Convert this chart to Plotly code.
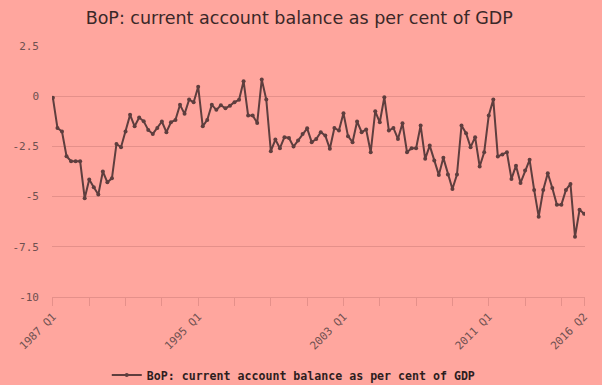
import plotly.graph_objects as go

values = [
    -0.08, -1.58, -1.76, -2.99, -3.24, -3.24, -3.24, -5.08, -4.15, -4.53,
    -4.90, -3.75, -4.29, -4.09, -2.38, -2.54, -1.76, -0.93, -1.50, -1.06,
    -1.25, -1.68, -1.88, -1.58, -1.26, -1.79, -1.30, -1.18, -0.43, -0.88,
    -0.17, -0.30, 0.47, -1.50, -1.18, -0.43, -0.68, -0.45, -0.60, -0.47,
    -0.30, -0.18, 0.75, -0.96, -0.96, -1.33, 0.83, -0.17, -2.74, -2.16,
    -2.59, -2.04, -2.08, -2.51, -2.21, -1.88, -1.60, -2.29, -2.13, -1.79,
    -1.96, -2.62, -1.58, -1.71, -0.85, -1.99, -2.29, -1.26, -1.79, -1.66,
    -2.79, -0.75, -1.30, -0.05, -1.71, -1.58, -2.13, -1.35, -2.79, -2.59,
    -2.59, -1.46, -3.12, -2.46, -3.20, -3.92, -3.07, -3.90, -4.62, -3.90,
    -1.46, -1.84, -2.54, -2.04, -3.50, -2.79, -0.96, -0.17, -3.00, -2.90,
    -2.79, -4.12, -3.46, -4.32, -3.70, -3.17, -4.67, -6.00, -4.67, -3.84,
    -4.57, -5.40, -5.40, -4.67, -4.37, -7.00, -5.66, -5.86,
]
start_year = 1987
periods = [f"{start_year + i // 4} Q{i % 4 + 1}" for i in range(len(values))]
tick_idx = list(range(0, len(values), 8)) + [len(values) - 1]
labelled = {"1987 Q1", "1995 Q1", "2003 Q1", "2011 Q1", "2016 Q2"}
tick_text = [periods[i] if periods[i] in labelled else "" for i in tick_idx]
y_ticks = [2.5, 0, -2.5, -5, -7.5, -10]
series_name = "BoP: current account balance as per cent of GDP"

bg = "#FFA69E"
grid = "#E5908A"
line_col = "#5E3E3E"

fig = go.Figure()
fig.add_trace(go.Scatter(
    x=list(range(len(values))), y=values, mode="lines+markers",
    name=series_name,
    line=dict(color=line_col, width=2),
    marker=dict(color=line_col, size=4),
    hovertext=periods,
))
fig.update_layout(
    width=602, height=385,
    paper_bgcolor=bg, plot_bgcolor=bg,
    margin=dict(l=52, r=17, t=46, b=88, autoexpand=False),
    title=dict(text="BoP: current account balance as per cent of GDP",
               x=0.497, xanchor="center", y=0.953, yanchor="middle",
               font=dict(family="DejaVu Sans", size=17.5, color="#3A2828")),
    showlegend=True,
    legend=dict(orientation="h", x=0.488, xanchor="center", xref="container",
                y=0.026, yanchor="middle", yref="container",
                font=dict(family="DejaVu Sans Mono", size=11.6, color="#2E1E1E", weight="bold"),
                bgcolor="rgba(0,0,0,0)"),
    xaxis=dict(range=[-0.2, len(values) - 0.8], tickmode="array", tickvals=tick_idx,
               ticktext=tick_text, tickangle=-45, ticks="outside", ticklen=8,
               tickcolor=grid, showgrid=False, zeroline=False, automargin=False,
               showline=True, linecolor=grid, linewidth=1,
               tickfont=dict(family="DejaVu Sans Mono", size=11, color="#6E5050")),
    yaxis=dict(range=[-10, 2.5], tickmode="array", tickvals=y_ticks,
               ticktext=[str(v) for v in y_ticks], showgrid=True, gridcolor=grid,
               gridwidth=1, zeroline=False, ticks="", ticklabelstandoff=12,
               automargin=False,
               tickfont=dict(family="DejaVu Sans Mono", size=11, color="#6E5050")),
)
fig.write_html(
    "out.html",
    config={"displayModeBar": False},
    post_script="document.body.style.margin='0';document.body.style.background='%s';" % bg,
)
